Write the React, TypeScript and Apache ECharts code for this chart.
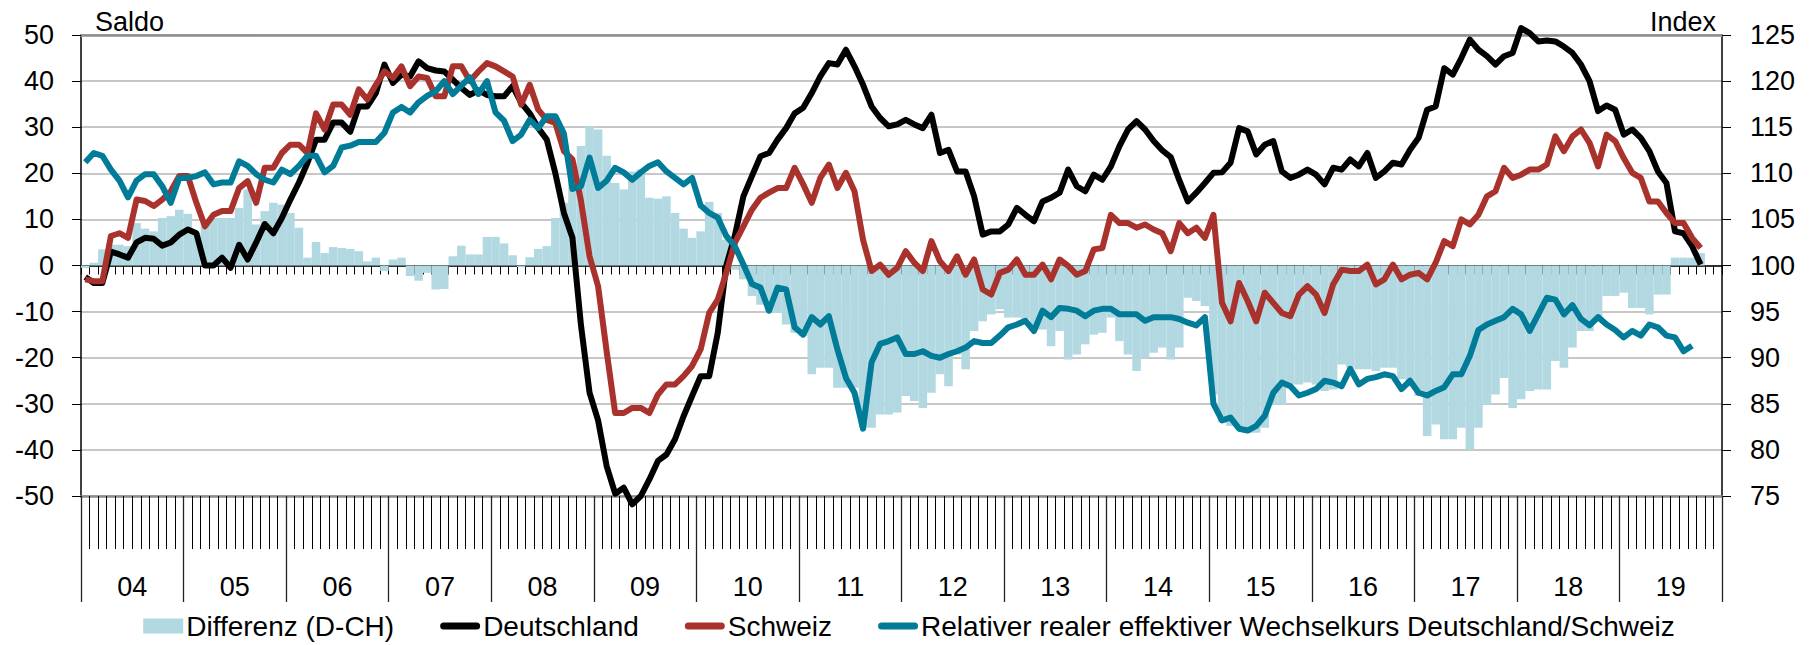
import React, { useEffect, useRef } from "react";
import * as echarts from "echarts";

const YEARS = ["04", "05", "06", "07", "08", "09", "10", "11", "12", "13", "14", "15", "16", "17", "18", "19"];
const MONTHS: string[] = [];
YEARS.forEach((y) => {
  for (let m = 1; m <= 12; m++) MONTHS.push(`${y}-${m < 10 ? "0" + m : m}`);
});

const LEFT_TICKS = { min: -50, max: 50, interval: 10 };
const RIGHT_TICKS = { min: 75, max: 125, interval: 5 };

const deutschland = [
  -2.5, -3.8, -3.8, 3, 2.4, 1.7, 5, 6, 5.8, 4.3, 5, 6.7,
  7.8, 7, 0, 0, 1.7, -0.5, 4.5, 1.3, 5, 9, 7, 10.3,
  14.3, 18, 22.3, 27.3, 27.3, 31, 31, 29, 34.5, 34.5, 37.4, 43.6,
  39.6, 41.4, 41, 44.3, 42.8, 42.3, 42.1, 40.3, 38.5, 37, 38, 37,
  36.7, 36.7, 38.9, 35.3, 33, 29.8, 27.3, 20, 11.4, 6, -13, -27.6,
  -33.6, -43.5, -49.5, -48.2, -51.8, -50, -46.4, -42.4, -41, -37.7, -32.7, -28.3,
  -24, -24, -14.6, 0, 6.5, 15, 19.4, 23.7, 24.4, 27.3, 29.8, 33,
  34.2, 37.4, 41, 43.9, 43.6, 46.8, 43.2, 39.2, 34.5, 32, 30.2, 30.6,
  31.6, 30.6, 29.8, 32.7, 24.4, 25.1, 20.4, 20.4, 15, 6.7, 7.4, 7.4,
  8.9, 12.5, 11, 9.6, 13.9, 14.7, 15.8, 20.8, 17.2, 16.1, 19.7, 18.6,
  21.5, 25.9, 29.5, 31.3, 29.5, 27, 25, 23.5, 18.5, 13.9, 15.8, 17.9,
  20.1, 20.2, 22.3, 29.8, 29.1, 24.1, 26.2, 27, 20.4, 19, 19.7, 20.8,
  19.7, 17.6, 21.2, 20.8, 23, 21.5, 24.4, 19, 20.4, 22.3, 21.9, 25.1,
  27.7, 33.8, 34.5, 42.8, 41.4, 45, 49, 46.8, 45.4, 43.6, 45.4, 46.1,
  51.5, 50.4, 48.6, 48.8, 48.6, 47.5, 46.1, 43.6, 40, 33.5, 34.7, 33.8,
  28.4, 29.5, 27.7, 24.8, 20.4, 17.9, 7.4, 7, 4.2, 0.2,
];

const schweiz = [
  -3, -3.4, -3.4, 6.4, 7, 6, 14.3, 14, 12.9, 14.3, 16.1, 19.4,
  19.4, 13.6, 8.5, 11, 11.8, 11.8, 16.8, 18.3, 13.6, 21.2, 21.2, 24.4,
  26.2, 26.2, 24.4, 33, 29.5, 34.9, 34.9, 32.7, 38.2, 36, 39.2, 42.1,
  40.7, 43.2, 38.9, 41, 40.7, 36.7, 36.7, 43.2, 43.2, 40, 42.1, 43.9,
  43.2, 42.1, 41, 34.9, 39.2, 33.8, 31.6, 30.9, 24.8, 23, 14, 2,
  -4.5, -18.6, -32, -32, -30.9, -30.9, -32, -28, -25.8, -25.8, -24, -21.8,
  -18.2, -10.3, -7.4, -1.6, 4.9, 8.5, 12.1, 14.7, 15.8, 16.8, 16.8, 21.2,
  17.6, 13.6, 19, 21.9, 16.8, 20.1, 16.1, 5.6, -1.2, 0.2, -2, -0.5,
  3.1, 0.6, -1.2, 5.3, 0.9, -1.2, 2, -2, 1.3, -5.2, -6.3, -1.6,
  -0.9, 1.3, -2, -2, 0.2, -3, 1.3, -0.1, -2, -1.2, 3.5, 3.8,
  11, 9.2, 9.2, 8.2, 8.9, 7.8, 7, 3.1, 9.2, 7, 8.2, 6,
  11, -8.1, -12.1, -3.8, -7.7, -12.1, -5.9, -8.1, -10.3, -11, -6.3, -4.5,
  -6.3, -10.3, -4.1, -0.9, -1.2, -1.2, 0.2, -4.1, -3, 0.2, -3, -2,
  -1.6, -3, 0.6, 5.3, 4.2, 10, 8.9, 11, 15, 16.1, 21.2, 19,
  19.7, 20.8, 20.8, 21.9, 28, 24.8, 28, 29.5, 26.6, 21.5, 28.4, 27,
  23.3, 20.1, 19, 13.9, 13.9, 11.4, 9.2, 9.2, 6, 3.8,
];

const wechselkurs = [
  111.2, 112.2, 111.9, 110.4, 109.2, 107.4, 109.2, 109.9, 109.9, 108.6, 106.8, 109.5,
  109.5, 109.7, 110.1, 108.8, 109, 109, 111.3, 110.8, 109.9, 109.3, 109, 110.4,
  109.9, 110.8, 111.9, 111.9, 110.1, 110.8, 112.8, 113, 113.4, 113.4, 113.4, 114.4,
  116.6, 117.2, 116.6, 117.7, 118.4, 118.9, 120, 118.6, 119.5, 120.4, 118.6, 120,
  116.6, 115.7, 113.5, 114.2, 115.8, 114.9, 116.2, 116.2, 114.3, 108.3, 108.6, 111.7,
  108.4, 109.2, 110.6, 110.1, 109.3, 110.1, 110.8, 111.2, 110.2, 109.5, 108.8, 109.5,
  106.5, 105.7, 105.2, 103.2, 102.1, 100.1, 98, 97.6, 95.1, 97.6, 97.4, 93.3,
  92.5, 94.4, 93.6, 94.5, 90.9, 87.8, 86.2, 82.3, 89.5, 91.5, 91.8, 92.2,
  90.4, 90.4, 90.7, 90.2, 90, 90.4, 90.7, 91.1, 91.8, 91.6, 91.6, 92.4,
  93.3, 93.6, 94, 92.9, 95.1, 94.4, 95.4, 95.3, 95.1, 94.5, 95.1, 95.3,
  95.3, 94.7, 94.7, 94.7, 94, 94.4, 94.4, 94.4, 94.2, 93.8, 93.5, 94.4,
  85, 83.2, 83.5, 82.3, 82.1, 82.6, 83.7, 86.2, 87.3, 86.9, 85.9, 86.2,
  86.6, 87.5, 87.3, 86.9, 88.8, 87.1, 87.7, 87.9, 88.2, 88, 86.6, 87.5,
  86.2, 85.9, 86.4, 86.8, 88.2, 88.2, 90.2, 93, 93.6, 94, 94.4, 95.3,
  94.7, 92.9, 94.7, 96.5, 96.3, 94.7, 95.7, 94.2, 93.5, 94.4, 93.6, 93,
  92.2, 92.9, 92.4, 93.6, 93.3, 92.4, 92.2, 90.7, 91.3,
];

const differenz = [
  -0.5, 0.6, 3.5, 4.5, 4.5, 4.2, 9.2, 8, 7.4, 10.3, 10.7, 12.1,
  11.2, 7, 9.2, 10.3, 10.3, 10.3, 12.5, 16.5, 8.9, 11.8, 13.6, 13.2,
  11.4, 8.2, 1.7, 5.1, 2.7, 4, 3.8, 3.6, 3.1, 0.9, 1.7, -1.2,
  1.3, 1.7, -2.3, -3.3, -1.6, -5.2, -5.1, 2, 4.3, 2.4, 2.4, 6.2,
  6.2, 4.8, 2.2, -0.3, 1.8, 3.6, 4.2, 10.3, 13.6, 21.9, 25.9, 30.2,
  29.5, 23.8, 17.9, 16.5, 20.4, 20.8, 14.7, 14.5, 15, 11.4, 8, 6,
  7.4, 13.8, 11.4, 5.6, -0.9, -3, -6.6, -8.5, -9.9, -10.3, -12.8, -14.6,
  -15.3, -23.6, -22.2, -22.2, -26.5, -26.5, -26.5, -35.2, -35.2, -32.3, -32.3, -31.9,
  -28.3, -29.4, -30.9, -27.6, -23.6, -26.2, -19.3, -22.5, -14.2, -12.1, -10.6, -9.5,
  -11.3, -11.3, -11.7, -13.9, -13.9, -17.5, -14.2, -20.4, -19.3, -17.1, -15, -14.6,
  -11.3, -16.4, -19.3, -22.9, -20, -18.9, -17.8, -20.4, -17.8, -7, -7.7, -8.8,
  -28, -34, -34.8, -35.5, -36.3, -36.3, -35.2, -30.1, -30.1, -25.8, -25.8, -25.4,
  -25.8, -27.2, -26.9, -21.5, -22.2, -22.5, -22.5, -22.9, -22.2, -22.2, -24.7, -26.2,
  -28.3, -37, -34.5, -37.7, -37.7, -35.2, -39.9, -35.2, -30.1, -28, -24.4, -30.9,
  -29, -27.2, -26.9, -26.9, -20.7, -22.2, -17.8, -14.2, -14.2, -12.1, -6.6, -6.6,
  -5.9, -9.2, -9.2, -10.6, -6.3, -6.3, 1.7, 1.7, 1.7, 2.7,
];

const FONT = "'Liberation Sans', Arial, sans-serif";
const C_BAR = "#b2d8e1";
const C_DE = "#000000";
const C_CH = "#a9322d";
const C_FX = "#007b98";
const LINE_ICON = "path://M3.5,0 L36.5,0 A3.5,3.5 0 0 1 36.5,7 L3.5,7 A3.5,3.5 0 0 1 3.5,0 Z";

export default function App() {
  const ref = useRef<HTMLDivElement>(null);

  useEffect(() => {
    document.body.style.margin = "0";
    if (!ref.current) return;
    const chart = echarts.init(ref.current, undefined, { renderer: "svg" });
    const labelStyle = { fontFamily: FONT, fontSize: 27, color: "#000" };

    chart.setOption({
      animation: false,
      backgroundColor: "#fff",
      grid: { left: 81, right: 96, top: 35, bottom: 149, containLabel: false },
      legend: {
        bottom: 0,
        left: "center",
        itemWidth: 40,
        itemHeight: 15,
        itemGap: 46,
        symbolKeepAspect: true,
        textStyle: { fontFamily: FONT, fontSize: 28, color: "#000", padding: [0, 0, 0, -2] },
        data: [
          { name: "Differenz (D-CH)", icon: "rect" },
          { name: "Deutschland", icon: LINE_ICON },
          { name: "Schweiz", icon: LINE_ICON },
          { name: "Relativer realer effektiver Wechselkurs Deutschland/Schweiz", icon: LINE_ICON },
        ],
      },
      graphic: [
        {
          type: "text",
          left: 95,
          top: 8,
          style: { text: "Saldo", font: `27px ${FONT}`, fill: "#000" },
        },
        {
          type: "text",
          right: 1818 - 1716,
          top: 8,
          style: { text: "Index", font: `27px ${FONT}`, fill: "#000" },
        },
      ],
      xAxis: [
        {
          type: "category",
          data: MONTHS,
          position: "bottom",
          boundaryGap: true,
          axisLine: { show: true, onZero: true, onZeroAxisIndex: 0, lineStyle: { color: "#000", width: 1.5 } },
          axisTick: { show: true, interval: 0, length: 9, lineStyle: { color: "#000", width: 1 } },
          axisLabel: { show: false },
          splitLine: { show: false },
        },
        {
          type: "category",
          data: MONTHS,
          position: "bottom",
          boundaryGap: true,
          axisLine: { show: true, onZero: false, lineStyle: { color: "#8c8c8c", width: 2.5 } },
          axisTick: { show: true, interval: 0, length: 53, lineStyle: { color: "#000", width: 1 } },
          axisLabel: { show: false },
          splitLine: { show: false },
        },
        {
          type: "category",
          data: YEARS,
          position: "bottom",
          boundaryGap: true,
          axisLine: { show: false, onZero: false },
          axisTick: { show: true, interval: 0, length: 106, lineStyle: { color: "#222", width: 1.3 } },
          axisLabel: { show: true, interval: 0, margin: 77, ...labelStyle },
          splitLine: { show: false },
        },
        {
          type: "category",
          data: MONTHS,
          position: "top",
          boundaryGap: true,
          axisLine: { show: true, onZero: false, lineStyle: { color: "#8c8c8c", width: 2.5 } },
          axisTick: { show: false },
          axisLabel: { show: false },
          splitLine: { show: false },
        },
      ],
      yAxis: [
        {
          type: "value",
          position: "left",
          min: LEFT_TICKS.min,
          max: LEFT_TICKS.max,
          interval: LEFT_TICKS.interval,
          axisLine: { show: true, lineStyle: { color: "#000", width: 1.5 } },
          axisTick: { show: true, length: 9, lineStyle: { color: "#000", width: 1 } },
          axisLabel: { margin: 27, padding: [6, 0, 0, 0], ...labelStyle },
          splitLine: { show: true, lineStyle: { color: "#b4b4b4", width: 1.5 } },
        },
        {
          type: "value",
          position: "right",
          min: RIGHT_TICKS.min,
          max: RIGHT_TICKS.max,
          interval: RIGHT_TICKS.interval,
          axisLine: { show: true, lineStyle: { color: "#000", width: 1.5 } },
          axisTick: { show: true, length: 9, lineStyle: { color: "#000", width: 1 } },
          axisLabel: { margin: 28, padding: [6, 0, 0, 0], ...labelStyle },
          splitLine: { show: false },
        },
      ],
      series: [
        {
          name: "Differenz (D-CH)",
          type: "bar",
          xAxisIndex: 0,
          yAxisIndex: 0,
          data: differenz,
          barCategoryGap: "0%",
          itemStyle: { color: C_BAR },
          z: 1,
        },
        {
          name: "Deutschland",
          type: "line",
          xAxisIndex: 0,
          yAxisIndex: 0,
          data: deutschland,
          symbol: "none",
          clip: false,
          lineStyle: { color: C_DE, width: 6, join: "round" },
          itemStyle: { color: C_DE },
          z: 3,
        },
        {
          name: "Schweiz",
          type: "line",
          xAxisIndex: 0,
          yAxisIndex: 0,
          data: schweiz,
          symbol: "none",
          clip: false,
          lineStyle: { color: C_CH, width: 6, join: "round" },
          itemStyle: { color: C_CH },
          z: 4,
        },
        {
          name: "Relativer realer effektiver Wechselkurs Deutschland/Schweiz",
          type: "line",
          xAxisIndex: 0,
          yAxisIndex: 1,
          data: wechselkurs,
          symbol: "none",
          clip: false,
          lineStyle: { color: C_FX, width: 6, join: "round" },
          itemStyle: { color: C_FX },
          z: 5,
        },
      ],
    });

    return () => chart.dispose();
  }, []);

  return <div ref={ref} style={{ width: 1818, height: 645 }} />;
}
